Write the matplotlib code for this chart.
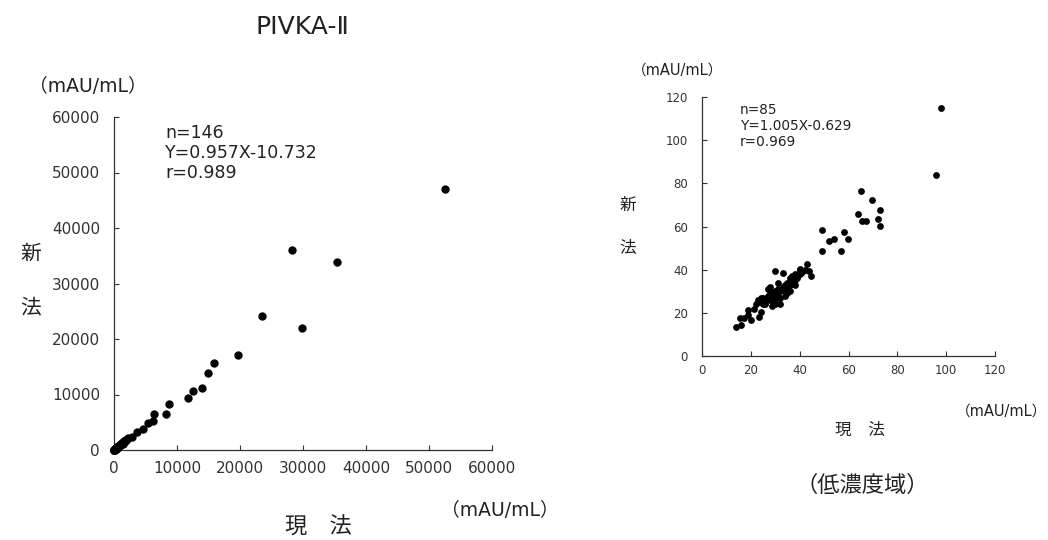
import matplotlib
matplotlib.use("Agg")
import matplotlib.pyplot as plt

plt.rcParams['font.family'] = ['DejaVu Sans', 'Noto Sans CJK JP']
JP = ['Noto Sans CJK JP', 'DejaVu Sans']

# ---- Left chart data (PIVKA-II, full range) ----
left_x = [52580, 28280, 35370, 23510, 29810, 19750, 15830, 14880, 14030, 12550,
          11760, 8740, 8310, 6300, 6200, 5350, 4660, 3600, 2810, 1640, 1480,
          20, 35, 50, 60, 75, 90, 100, 120, 140, 160, 180, 200, 230, 260, 290,
          320, 350, 380, 420, 460, 500, 550, 600, 650, 700, 760, 820, 880, 950,
          1020, 1100, 1180, 1260, 1350, 1450, 1550, 1650, 1750, 1850, 1950, 2100,
          2250, 40, 70, 110, 150, 210, 270, 330, 400, 480, 560, 640, 720, 800,
          900, 1000, 1120, 1240, 1380]
left_y = [47100, 36000, 33790, 24070, 21900, 17100, 15720, 13920, 11220, 10620,
          9300, 8280, 6540, 6540, 5220, 4800, 3720, 3300, 2400, 1670, 1030,
          18, 30, 45, 58, 70, 85, 96, 110, 135, 150, 172, 190, 215, 250, 270,
          305, 330, 365, 395, 440, 470, 525, 570, 615, 665, 720, 790, 830, 900,
          980, 1050, 1120, 1200, 1290, 1380, 1470, 1560, 1680, 1760, 1850, 2000,
          2150, 36, 66, 102, 145, 198, 258, 312, 380, 455, 540, 600, 690, 760,
          860, 950, 1070, 1180, 1310]
left_ticks = [0, 10000, 20000, 30000, 40000, 50000, 60000]
left_stats = ["n=146", "Y=0.957X-10.732", "r=0.989"]

# ---- Right chart data (low concentration range) ----
right_x = [98.0, 95.9, 65.0, 69.8, 73.0, 63.8, 72.0, 65.6, 67.0, 73.0, 49.1, 58.1,
           53.9, 59.9, 52.0, 49.0, 56.9, 43.0, 40.0, 44.0, 44.7, 30.0, 33.0, 13.8,
           15.8, 15.7, 17.0, 18.7, 20.0, 21.5, 23.2, 24.0, 23.9, 28.6, 31.9, 34.8,
           27.3, 23, 24, 25, 25, 26, 27, 27, 28, 28, 29, 29, 30, 30, 30, 31, 31, 32,
           32, 33, 33, 34, 34, 35, 35, 36, 36, 37, 37, 38, 38, 39, 39, 40, 40, 41,
           42, 36, 34, 30, 26, 28, 38, 27, 31, 29, 25, 22, 19]
right_y = [114.9, 83.7, 76.4, 72.4, 67.6, 65.6, 63.6, 62.5, 62.5, 60.4, 58.5, 57.5,
           54.4, 54.4, 53.3, 48.5, 48.5, 42.5, 40.5, 39.2, 37.2, 39.2, 38.3, 13.3,
           14.2, 17.5, 17.5, 21.2, 16.5, 21.9, 18.1, 20.4, 25.0, 23.2, 24.2, 29.3,
           31.2, 26, 27, 26, 27, 25, 27, 28, 26, 30, 27, 29, 28, 30, 26, 28, 31, 27,
           30, 31, 32, 33, 30, 32, 34, 33, 36, 34, 37, 35, 38, 36, 37, 38, 40, 39,
           40, 30, 28, 24, 24, 32, 33, 31, 34, 25, 24, 24, 19]
right_ticks = [0, 20, 40, 60, 80, 100, 120]
right_stats = ["n=85", "Y=1.005X-0.629", "r=0.969"]

W, H = 1048, 540
fig = plt.figure(figsize=(W / 100, H / 100), dpi=100)
TXT = '#222222'


def fx(px):
    return px / W


def fy(py):
    return 1 - py / H


def style(ax, fs, xpad, ypad):
    for s in ['top', 'right']:
        ax.spines[s].set_visible(False)
    for s in ['left', 'bottom']:
        ax.spines[s].set_color('#333333')
        ax.spines[s].set_linewidth(0.9)
    ax.tick_params(direction='in', length=3.5, width=0.8, colors='#333333',
                   labelsize=fs, labelcolor='#333333')
    ax.tick_params(axis='x', pad=xpad)
    ax.tick_params(axis='y', pad=ypad)


# Left axes
axL = fig.add_axes([fx(114), fy(450), fx(492) - fx(114), (450 - 117) / H])
axL.scatter(left_x, left_y, s=36, color='black', linewidths=0, zorder=3, clip_on=False)
axL.set_xlim(0, 60000)
axL.set_ylim(0, 60000)
axL.set_xticks(left_ticks)
axL.set_yticks(left_ticks)
axL.set_xticklabels([str(t) for t in left_ticks])
axL.set_yticklabels([str(t) for t in left_ticks])
style(axL, 11, 8, 10)
for i, s in enumerate(left_stats):
    fig.text(fx(165), fy(133 + 20 * i), s, fontsize=12.5, color=TXT, va='center', ha='left')

# Right axes
axR = fig.add_axes([fx(702), fy(356), fx(995) - fx(702), (356 - 97) / H])
axR.scatter(right_x, right_y, s=24, color='black', linewidths=0, zorder=3, clip_on=False)
axR.set_xlim(0, 120)
axR.set_ylim(0, 120)
axR.set_xticks(right_ticks)
axR.set_yticks(right_ticks)
style(axR, 8.5, 6, 10)
for i, s in enumerate(right_stats):
    fig.text(fx(740), fy(110 + 16 * i), s, fontsize=9.8, color=TXT, va='center', ha='left')

# Surrounding texts
fig.text(fx(302), fy(27), "PIVKA-Ⅱ", fontsize=18, color=TXT, ha='center', va='center')
fig.text(fx(88), fy(87), "（mAU/mL）", fontsize=13.5, color=TXT, ha='center', va='center')
fig.text(fx(31), fy(254), "新", fontsize=15, color=TXT, ha='center', va='center', family=JP)
fig.text(fx(31), fy(307), "法", fontsize=15, color=TXT, ha='center', va='center', family=JP)
fig.text(fx(500), fy(510), "（mAU/mL）", fontsize=13.5, color=TXT, ha='center', va='center')
fig.text(fx(318), fy(527), "現　法", fontsize=16, color=TXT, ha='center', va='center', family=JP)

fig.text(fx(678), fy(70), "（mAU/mL）", fontsize=10.5, color=TXT, ha='center', va='center')
fig.text(fx(628), fy(205), "新", fontsize=12, color=TXT, ha='center', va='center', family=JP)
fig.text(fx(628), fy(248), "法", fontsize=12, color=TXT, ha='center', va='center', family=JP)
fig.text(fx(1002), fy(411), "（mAU/mL）", fontsize=10.5, color=TXT, ha='center', va='center')
fig.text(fx(860), fy(430), "現　法", fontsize=12, color=TXT, ha='center', va='center', family=JP)
fig.text(fx(862), fy(485), "（低濃度域）", fontsize=16, color=TXT, ha='center', va='center', family=JP)

fig.savefig("out.png", dpi=100, facecolor='white')
